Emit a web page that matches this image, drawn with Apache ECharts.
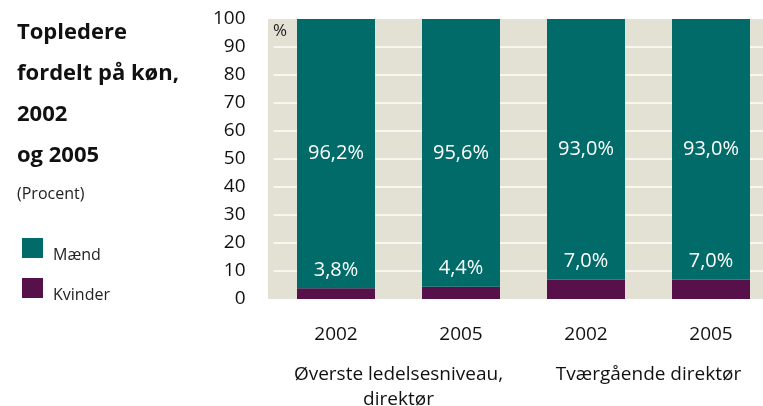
<!DOCTYPE html>
<html><head><meta charset="utf-8">
<script src="https://cdn.jsdelivr.net/npm/echarts@6/dist/echarts.min.js"></script>
<style>html,body{margin:0;padding:0;background:#fff}#c{width:763px;height:406px}</style>
</head><body><div id="c"></div>
<script>
const years = ['2002', '2005', '2002', '2005'];
const groups = ['Øverste ledelsesniveau,\ndirektør', 'Tværgående direktør'];
const kvinder = [3.8, 4.4, 7.0, 7.0];
const maend = [96.2, 95.6, 93.0, 93.0];
const yTicks = [0, 10, 20, 30, 40, 50, 60, 70, 80, 90, 100];
const titleLines = ['Topledere', 'fordelt på køn,', '2002', 'og 2005'];

const FONT = '"Open Sans", "Noto Sans", sans-serif';
const TEAL = '#006B68', PURPLE = '#58104A', BG = '#E2E1D3';
const fmt = v => v.toFixed(1).replace('.', ',') + '%';

const chart = echarts.init(document.getElementById('c'));
const titleGraphics = titleLines.map((t, i) => ({
  type: 'text', left: 17, top: 22 + i * 41,
  style: { text: t, font: 'bold 22px ' + FONT, fill: '#111' }
}));
chart.setOption({
  animation: false,
  textStyle: { fontFamily: FONT },
  grid: { left: 273.5, top: 19, width: 500, height: 280, outerBoundsMode: 'none', containLabel: false },
  graphic: [
    { type: 'rect', z: -10, shape: { x: 268, y: 19, width: 495, height: 280 }, style: { fill: BG } },
    ...titleGraphics,
    { type: 'text', left: 17, top: 186, style: { text: '(Procent)', font: '16px ' + FONT, fill: '#222' } },
    { type: 'text', left: 273, top: 23, z: 10, style: { text: '%', font: '17px ' + FONT, fill: '#222' } }
  ],
  legend: {
    orient: 'vertical', left: 17, top: 233, itemWidth: 21, itemHeight: 20, itemGap: 15,
    icon: 'rect', data: ['Mænd', 'Kvinder'],
    formatter: name => '{t|' + name + '}',
    textStyle: { fontSize: 16, color: '#222',
      rich: { t: { fontSize: 16, color: '#222', padding: [14, 0, 0, 5] } } }
  },
  xAxis: [
    { type: 'category', data: years, position: 'bottom',
      axisLine: { show: false }, axisTick: { show: false },
      axisLabel: { fontSize: 19, color: '#111', margin: 26 } },
    { type: 'category', data: groups, position: 'bottom',
      axisLine: { show: false }, axisTick: { show: false },
      axisLabel: { fontSize: 19, color: '#111', margin: 63, lineHeight: 25, interval: 0 } }
  ],
  yAxis: {
    type: 'value', min: 0, max: 100, interval: 10,
    axisLine: { show: false }, axisTick: { show: false },
    axisLabel: { fontSize: 19, color: '#111', margin: 28, formatter: v => yTicks.includes(v) ? String(v) : '' },
    splitLine: { show: true, showMinLine: false, showMaxLine: false, lineStyle: { color: '#F7F6EF', width: 2 } }
  },
  series: [
    { name: 'Kvinder', type: 'bar', stack: 's', data: kvinder, barWidth: 78,
      itemStyle: { color: PURPLE },
      label: { show: true, position: 'top', distance: 8, color: '#fff', fontSize: 20, formatter: p => fmt(p.value) } },
    { name: 'Mænd', type: 'bar', stack: 's', data: maend, barWidth: 78,
      itemStyle: { color: TEAL },
      label: { show: true, position: 'inside', color: '#fff', fontSize: 20, formatter: p => fmt(p.value) } }
  ]
});
</script></body></html>
